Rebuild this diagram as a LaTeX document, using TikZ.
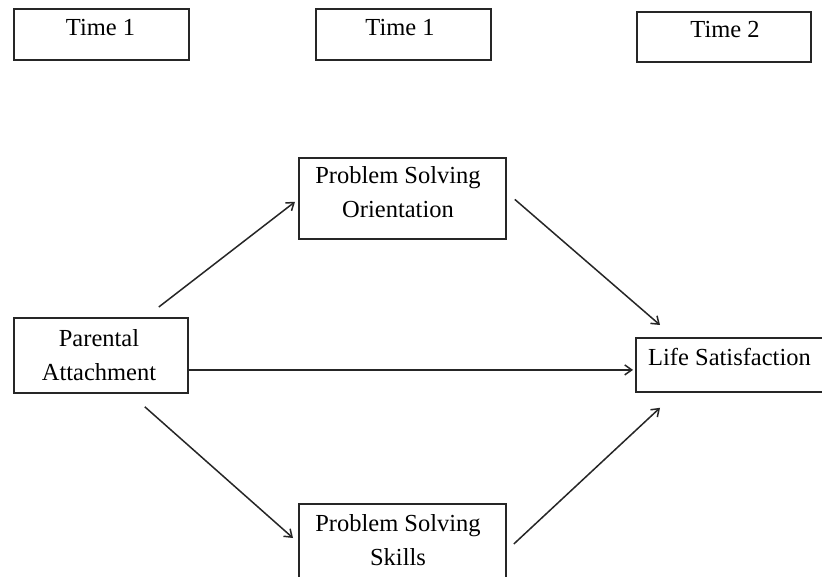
\documentclass[tikz,border=0pt]{standalone}
\usepackage{fontspec}
\setmainfont{Liberation Serif}
\usetikzlibrary{arrows.meta}
\begin{document}
\begin{tikzpicture}[x=1pt,y=1pt,
  box/.style={draw=black!85, line width=1.8pt, rectangle, inner sep=0pt, anchor=north west},
  lbl/.style={font=\fontsize{24.5}{34}\selectfont, align=center, inner sep=0pt, anchor=base},
  arr/.style={draw=black!85, line width=1.5pt, -{Straight Barb[length=7pt,width=10pt]}}]
\clip (0,0) rectangle (822,-577);
\fill[white] (0,0) rectangle (822,-577);
% time boxes
\node[box, minimum width=175pt, minimum height=51pt] (t1) at (13,-8) {};
\node[lbl] (t1T) at (100.5,-36) {Time 1};
\node[box, minimum width=175pt, minimum height=51pt] (t2) at (315,-8) {};
\node[lbl] (t2T) at (400,-36) {Time 1};
\node[box, minimum width=174pt, minimum height=50pt] (t3) at (636,-11) {};
\node[lbl] (t3T) at (725,-38) {Time 2};
% model boxes
\node[box, minimum width=207pt, minimum height=81pt] (pso) at (298,-157) {};
\node[lbl] (psoT) at (398,-218) {Problem Solving\\Orientation};
\node[box, minimum width=174pt, minimum height=75pt] (pa) at (13,-317) {};
\node[lbl] (paT) at (99,-380) {Parental\\Attachment};
\node[box, minimum width=200pt, minimum height=54pt] (ls) at (635,-337) {};
\node[lbl, anchor=base west] (lsT) at (648,-365) {Life Satisfaction};
\node[box, minimum width=207pt, minimum height=82pt] (pss) at (298,-503) {};
\node[lbl] (pssT) at (398,-565) {Problem Solving\\Skills};
% connectors
\draw[arr] ([xshift=-30pt,yshift=10pt]pa.north east) -- ([xshift=-3pt,yshift=38pt]pso.south west);
\draw[arr] ([xshift=8pt,yshift=-1pt]pso.east) -- ([xshift=25pt,yshift=12pt]ls.north west);
\draw[arr] ([yshift=-14.5pt]pa.east) -- ([xshift=-2pt,yshift=-5pt]ls.west);
\draw[arr] ([xshift=-44pt,yshift=-13pt]pa.south east) -- ([xshift=-5pt,yshift=-35pt]pss.north west);
\draw[arr] ([xshift=7pt,yshift=-41pt]pss.north east) -- ([xshift=25pt,yshift=-15pt]ls.south west);
\end{tikzpicture}
\end{document}
